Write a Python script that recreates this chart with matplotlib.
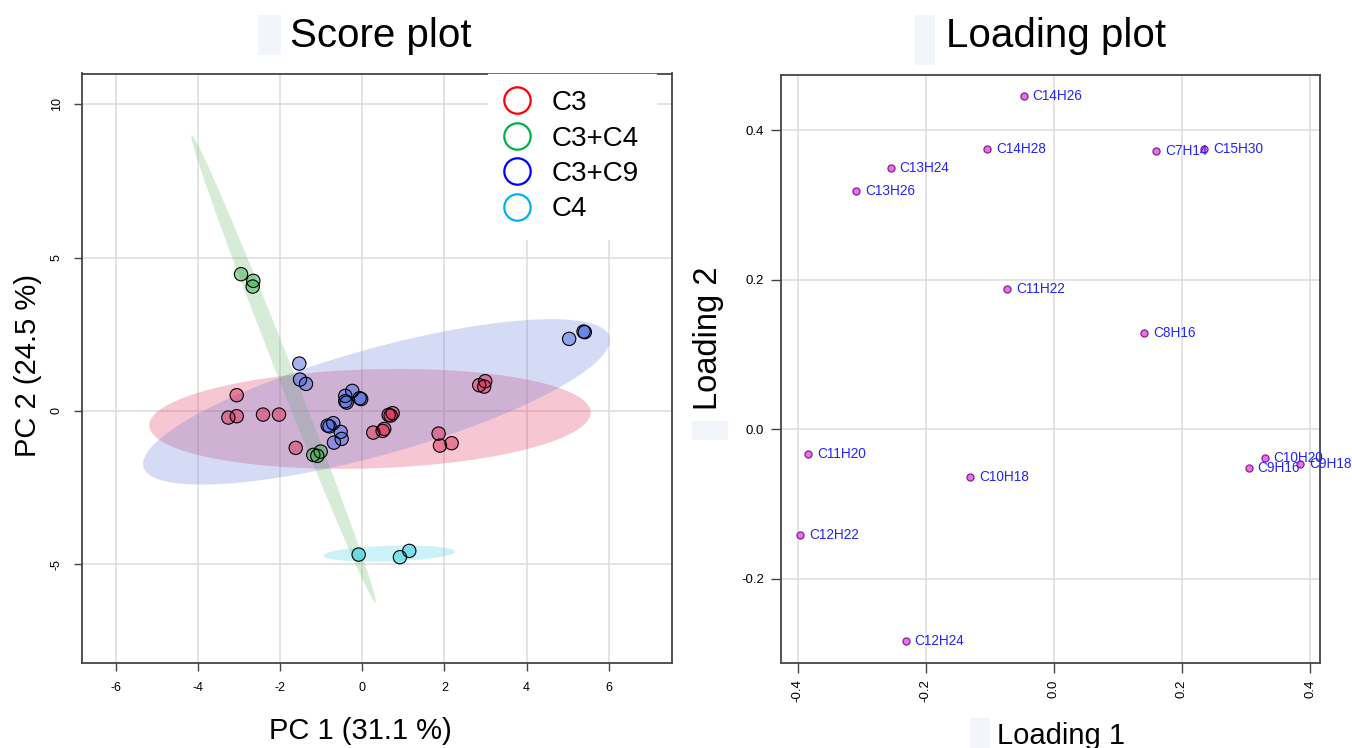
import numpy as np
import matplotlib
matplotlib.use("Agg")
import matplotlib.pyplot as plt
from matplotlib.lines import Line2D
from matplotlib.patches import Rectangle

plt.rcParams['font.family'] = ['Liberation Sans', 'DejaVu Sans']

# ---------------- data: score plot ----------------
groups = ["C3", "C3+C4", "C3+C9", "C4"]

c3_x = [-3.056, -3.260, -3.056, -2.416, -2.027, -1.620, 0.268, 0.496, 0.535,
        0.642, 0.740, 0.691, 2.847, 2.993, 2.968, 1.859, 1.891, 2.175]
c3_y = [0.512, -0.218, -0.173, -0.121, -0.121, -1.206, -0.708, -0.652, -0.587,
        -0.130, -0.075, -0.153, 0.838, 0.968, 0.792, -0.740, -1.131, -1.053]

c3c4_x = [-2.951, -2.652, -2.667, -1.192, -1.012, -1.095]
c3c4_y = [4.457, 4.239, 4.053, -1.435, -1.327, -1.467]

c3c9_x = [-1.533, -1.516, -1.370, -0.243, -0.414, -0.063, -0.027, -0.414, -0.380,
          -0.842, -0.706, -0.798, -0.526, -0.501, -0.689, 5.036, 5.387, 5.418]
c3c9_y = [1.542, 1.021, 0.880, 0.652, 0.489, 0.414, 0.385, 0.316, 0.271,
          -0.479, -0.401, -0.505, -0.685, -0.913, -1.034, 2.348, 2.586, 2.566]

c4_x = [-0.088, 0.917, 1.144]
c4_y = [-4.685, -4.770, -4.565]

# confidence ellipses: centre, half-axis vectors (data units)
ell_center = [(0.187, -0.261), (-1.917, 1.369), (0.345, 0.293), (0.655, -4.653)]
ell_axis_a = [(5.372, 0.220), (2.238, -7.62), (5.672, 2.123), (1.601, 0.065)]
ell_axis_b = [(0.037, -1.614), (0.181, 0.096), (0.347, -1.663), (0.0, -0.254)]

score_xticks = [-6, -4, -2, 0, 2, 4, 6]
score_yticks = [-5, 0, 5, 10]

# ---------------- data: loading plot ----------------
load_names = ["C14H26", "C14H28", "C13H24", "C13H26", "C7H14", "C15H30", "C11H22",
              "C8H16", "C11H20", "C10H18", "C12H22", "C12H24", "C10H20", "C9H16", "C9H18"]
load_x = [-0.0473, -0.1048, -0.2550, -0.3086, 0.1597, 0.2344, -0.0731,
          0.1412, -0.3833, -0.1311, -0.3961, -0.2316, 0.3292, 0.3042, 0.3851]
load_y = [0.4453, 0.3752, 0.3500, 0.3184, 0.3727, 0.3747, 0.1873,
          0.1284, -0.0333, -0.0641, -0.1419, -0.2827, -0.0389, -0.0512, -0.0461]
load_xticks = [-0.4, -0.2, 0.0, 0.2, 0.4]
load_yticks = [-0.2, 0.0, 0.2, 0.4]

# ---------------- styles ----------------
legend_cols = ["#FF0000", "#00B050", "#0000FF", "#00B0F0"]
point_cols = ["#E0305A", "#3DB04F", "#4A6BE6", "#2CCDE0"]
ell_cols = ["#DF2353", "#5FB75F", "#5B73D7", "#37CBE3"]
grid_col = "#DCDCDC"
spine_col = "#444444"
patch_col = "#F2F5FA"

W, H = 1352, 748
fig = plt.figure(figsize=(W / 100, H / 100), dpi=100)

def fx(px):
    return px / W

def fy(py):
    return 1 - py / H

ax1 = fig.add_axes([fx(81.7), fy(663), fx(672) - fx(81.7), fy(73.5) - fy(663)])
ax2 = fig.add_axes([fx(780.7), fy(662.5), fx(1320) - fx(780.7), fy(74.5) - fy(662.5)])

for ax in (ax1, ax2):
    for s in ax.spines.values():
        s.set_color(spine_col)
        s.set_linewidth(1.3)
    ax.set_axisbelow(True)
    ax.grid(True, color=grid_col, linewidth=1.1)

# ---- score plot ----
xs = [c3_x, c3c4_x, c3c9_x, c4_x]
ys = [c3_y, c3c4_y, c3c9_y, c4_y]
t = np.linspace(0, 2 * np.pi, 300)
for i in range(4):
    c = np.array(ell_center[i])
    a = np.array(ell_axis_a[i])
    b = np.array(ell_axis_b[i])
    ex = c[0] + a[0] * np.cos(t) + b[0] * np.sin(t)
    ey = c[1] + a[1] * np.cos(t) + b[1] * np.sin(t)
    ax1.fill(ex, ey, color=ell_cols[i], alpha=0.25, linewidth=0, zorder=1)
for i in range(4):
    ax1.scatter(xs[i], ys[i], s=92, facecolor=point_cols[i], alpha=0.5,
                edgecolor="none", zorder=3)
    ax1.scatter(xs[i], ys[i], s=92, facecolor="none", edgecolor="black",
                linewidth=0.8, zorder=4)

ax1.set_xlim(-6.83, 7.54)
ax1.set_ylim(-8.22, 11.0)
ax1.set_xticks(score_xticks)
ax1.set_yticks(score_yticks)
ax1.set_xticklabels([str(v) for v in score_xticks])
ax1.set_yticklabels([str(v) for v in score_yticks], rotation=90, va="center")
ax1.tick_params(axis="both", length=5.5, width=1.0, color=spine_col,
                labelsize=9, pad=8)

handles = [Line2D([], [], linestyle="none", marker="o", markersize=19,
                  markerfacecolor="none", markeredgecolor=legend_cols[i],
                  markeredgewidth=1.6) for i in range(4)]
leg = ax1.legend(handles, groups, loc="upper left",
                 bbox_to_anchor=(fx(488), fy(73.5)), bbox_transform=fig.transFigure,
                 fontsize=20, frameon=True, fancybox=False, framealpha=1,
                 facecolor="white", edgecolor="white", borderpad=0.6,
                 labelspacing=0.34, handlelength=0.9, handletextpad=0.8,
                 borderaxespad=0)
leg.set_zorder(10)

# ---- loading plot ----
ax2.scatter(load_x, load_y, s=26, facecolor="#E572E8", edgecolor="#8E1C8E",
            linewidth=0.9, zorder=3)
for n, x, y in zip(load_names, load_x, load_y):
    ax2.annotate(n, (x, y), xytext=(6.5, 0), textcoords="offset points",
                 ha="left", va="center", fontsize=9.8, color="#2323FF", zorder=4)
ax2.set_xlim(-0.4266, 0.4156)
ax2.set_ylim(-0.312, 0.4747)
ax2.set_xticks(load_xticks)
ax2.set_yticks(load_yticks)
ax2.set_xticklabels(["%.1f" % v for v in load_xticks], rotation=90)
ax2.set_yticklabels(["%.1f" % v for v in load_yticks])
ax2.tick_params(axis="both", length=7, width=1.0, color=spine_col,
                labelsize=9.5, pad=5)

# ---- titles and axis labels ----
for (x0, y0, w, h) in [(258, 15, 23, 40), (915, 15, 20, 50), (692, 421, 36, 19),
                       (970, 718, 20, 30)]:
    fig.patches.append(Rectangle((fx(x0), fy(y0 + h)), w / W, h / H,
                                 transform=fig.transFigure, facecolor=patch_col,
                                 edgecolor="none"))

fig.text(fx(290), fy(47), "Score plot", fontsize=29, ha="left", va="baseline")
fig.text(fx(946), fy(47), "Loading plot", fontsize=29, ha="left", va="baseline")
fig.text(fx(360), fy(739), "PC 1 (31.1 %)", fontsize=21, ha="center", va="baseline")
fig.text(fx(28), fy(366), "PC 2 (24.5 %)", fontsize=21, ha="center", va="center",
         rotation=90)
fig.text(fx(997), fy(744), "Loading 1", fontsize=21, ha="left", va="baseline")
fig.text(fx(709), fy(338), "Loading 2", fontsize=23.5, ha="center", va="center",
         rotation=90)

fig.savefig("out.png", dpi=100)
